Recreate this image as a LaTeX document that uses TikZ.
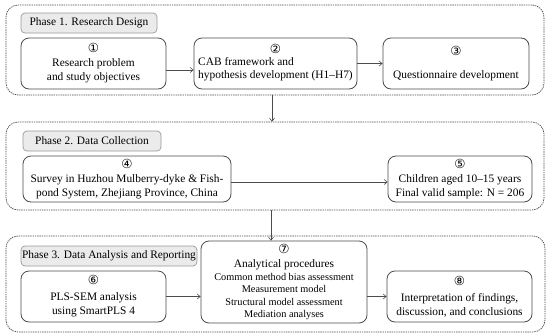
\documentclass[tikz,border=0pt]{standalone}
\usepackage{fontspec}
\setmainfont{Liberation Serif}
\newfontfamily\circfont{DejaVu Sans}
\usetikzlibrary{arrows.meta}
\newcommand{\cn}[1]{{\circfont\fontsize{12.5}{12}\selectfont #1}}
\newcommand{\smalltxt}{\fontsize{10.3}{12.4}\selectfont}
\begin{document}
\begin{tikzpicture}[x=1pt,y=-1pt,
  font=\fontsize{11.4}{14}\selectfont,
  outerbox/.style={draw=black!70, line width=0.7pt, dash pattern=on 1.4pt off 0.9pt, rounded corners=12pt, inner sep=0pt},
  phaselabel/.style={draw=black!40, fill=black!8, line width=0.7pt, rounded corners=4pt, inner sep=0pt},
  stepbox/.style={draw=black!70, fill=white, line width=0.8pt, rounded corners=8pt, inner sep=0pt, align=center},
  arr/.style={draw=black!70, line width=0.6pt, -{Straight Barb[length=3pt,width=5pt]}}
]
\useasboundingbox (0,0) rectangle (550,335);

% phase frames
\node[outerbox, minimum width=538pt, minimum height=90pt] (p1) at (275,50) {};
\node[outerbox, minimum width=538pt, minimum height=88pt] (p2) at (275,166) {};
\node[outerbox, minimum width=539pt, minimum height=96pt] (p3) at (275.5,284) {};

% phase labels
\node[phaselabel, minimum width=136pt, minimum height=20pt] (l1) at (89,23) {Phase 1. Research Design};
\node[phaselabel, minimum width=138pt, minimum height=20pt] (l2) at (92,141) {Phase 2. Data Collection};
\node[phaselabel, minimum width=176pt, minimum height=20pt] (l3) at (109,256) {Phase 3. Data Analysis and Reporting};

% phase 1
\node[stepbox, minimum width=145pt, minimum height=51pt] (b1) at (93.5,63.5)
  {\cn{①}\\Research problem\\and study objectives};
\node[stepbox, minimum width=163pt, minimum height=51pt] (b2) at (275.5,63.5)
  {\cn{②}\\[1pt]\begin{tabular}{@{}l@{}}CAB framework and\\[-0.5pt]hypothesis development (H1–H7)\end{tabular}};
\node[stepbox, minimum width=146pt, minimum height=51pt] (b3) at (456,63.5)
  {\cn{③}\\[9pt]Questionnaire development};

% phase 2
\node[stepbox, minimum width=208pt, minimum height=46pt] (b4) at (127,179)
  {\cn{④}\\Survey in Huzhou Mulberry-dyke \& Fish-\\pond System, Zhejiang Province, China};
\node[stepbox, minimum width=144pt, minimum height=46pt] (b5) at (460,179)
  {\cn{⑤}\\Children aged 10–15 years\\Final valid sample: N = 206};

% phase 3
\node[stepbox, minimum width=145pt, minimum height=51pt] (b6) at (93.5,296.5)
  {\cn{⑥}\\[2pt]PLS-SEM analysis\\using SmartPLS 4};
\node[stepbox, minimum width=166pt, minimum height=82pt] (b7) at (284,282)
  {\cn{⑦}\\Analytical procedures\\[-1pt]{\smalltxt Common method bias assessment}\\[-1.6pt]{\smalltxt Measurement model}\\[-1.6pt]{\smalltxt Structural model assessment}\\[-1.6pt]{\smalltxt Mediation analyses}};
\node[stepbox, minimum width=145pt, minimum height=51pt] (b8) at (459.5,296.5)
  {\cn{⑧}\\[2pt]Interpretation of findings,\\discussion, and conclusions};

% connectors
\draw[arr] ([yshift=-6.5pt]b1.east) -- ([yshift=-6.5pt]b1.east -| b2.west);
\draw[arr] (b2.east) -- (b3.west);
\draw[arr] ([yshift=-3pt]b4.east) -- ([yshift=-3pt]b4.east -| b5.west);
\draw[arr] (b6.east) -- (b6.east -| b7.west);
\draw[arr] (b7.east |- b8.west) -- (b8.west);
\draw[arr] ([xshift=-3pt]p1.south) -- ([xshift=-3pt]p2.north);
\draw[arr] ([xshift=-4pt]p2.south) -- ([xshift=-4pt]p2.south |- b7.north);
\end{tikzpicture}
\end{document}
